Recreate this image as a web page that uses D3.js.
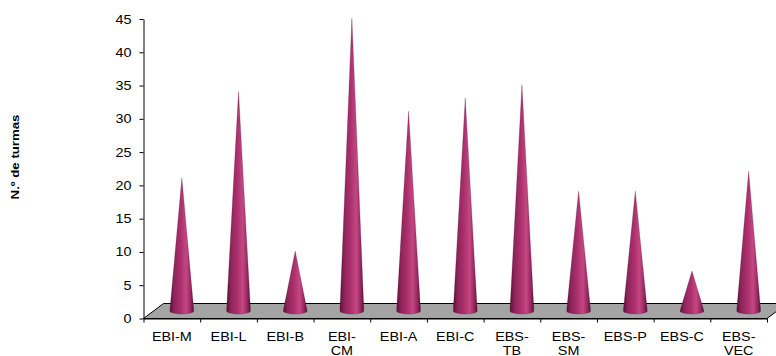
<!DOCTYPE html>
<html>
<head>
<meta charset="utf-8">
<script src="https://cdn.jsdelivr.net/npm/d3@7"></script>
<style>
  body { margin: 0; background: #fff; }
  svg { display: block; }
  text { font-family: "Liberation Sans", Arial, sans-serif; fill: #000; }
</style>
</head>
<body>
<svg width="776" height="356"></svg>
<script>
// categories and values
const categories = ["EBI-M", "EBI-L", "EBI-B", "EBI-CM", "EBI-A", "EBI-C", "EBS-TB", "EBS-SM", "EBS-P", "EBS-C", "EBS-VEC"];
const turmas = [20, 33, 9, 44, 30, 32, 34, 18, 18, 6, 21];
const yTicks = [0, 5, 10, 15, 20, 25, 30, 35, 40, 45];

const svg = d3.select("svg");
const plotLeft = 143.5, plotRight = 767, plotTop = 19, plotBottom = 318.5;
const depthX = 20, depthY = 15; // oblique offset of the floor
const stretch = 1.15;           // text in the picture is a bit wider than Arial

const x = d3.scaleBand().domain(categories).range([plotLeft, plotRight]);
const y = d3.scaleLinear().domain([0, 45]).range([plotBottom, plotTop]);

// gradient for the cones
const grad = svg.append("defs").append("linearGradient")
  .attr("id", "cone").attr("x1", "0").attr("x2", "1").attr("y1", "0").attr("y2", "0");
[[0, "#5a1036"], [0.18, "#8e2459"], [0.45, "#ab306d"], [0.68, "#c44781"], [0.86, "#9a2961"], [1, "#581035"]]
  .forEach(s => grad.append("stop").attr("offset", s[0]).attr("stop-color", s[1]));

// floor
svg.append("polygon")
  .attr("points", [[plotLeft, plotBottom], [plotLeft + depthX, plotBottom - depthY], [plotRight + depthX, plotBottom - depthY], [plotRight, plotBottom]].join(" "))
  .attr("fill", "#a4a4a4")
  .attr("stroke", "#000")
  .attr("stroke-width", 1);

// y axis
const yAxis = svg.append("g")
  .attr("transform", `translate(${plotLeft},0)`)
  .call(d3.axisLeft(y).tickValues(yTicks).tickSize(4).tickSizeOuter(0));
yAxis.select(".domain").attr("stroke", "#000");
yAxis.selectAll("text")
  .attr("x", null)
  .attr("transform", `translate(-12,0) scale(${stretch},1)`)
  .style("font-size", "12.5px")
  .style("font-family", "'Liberation Sans', Arial, sans-serif");

// x axis: tick marks on the band edges
const edge = d3.scaleLinear().domain([0, categories.length]).range([plotLeft, plotRight]);
const xTicks = svg.append("g")
  .attr("transform", `translate(0,${plotBottom})`)
  .call(d3.axisBottom(edge).tickValues(d3.range(categories.length + 1)).tickSize(4).tickFormat("").tickSizeOuter(0));
xTicks.select(".domain").attr("stroke", "#000");

// x axis labels from the band scale, wrapped after the hyphen when too wide
const xLabels = svg.append("g")
  .attr("transform", `translate(0,${plotBottom})`)
  .call(d3.axisBottom(x).tickSize(0).tickPadding(0));
xLabels.select(".domain").remove();
xLabels.selectAll("text")
  .attr("y", null).attr("dy", null)
  .style("font-size", "12.5px")
  .style("font-family", "'Liberation Sans', Arial, sans-serif")
  .each(function(d) {
    const t = d3.select(this);
    t.text(null).attr("transform", `translate(0,22) scale(${stretch},1)`);
    t.append("tspan").attr("x", 0).attr("dy", 0).text(d);
    if (this.getComputedTextLength() * stretch > 49) {
      const i = d.indexOf("-") + 1;
      t.text(null);
      t.append("tspan").attr("x", 0).attr("dy", 0).text(d.slice(0, i));
      t.append("tspan").attr("x", 0).attr("dy", "1.2em").text(d.slice(i));
    }
  });

// cones, standing in the middle of the floor depth
const r = 12, ry = 3;
svg.append("g").selectAll("path")
  .data(categories.map((c, i) => ({ c, v: turmas[i] })))
  .join("path")
  .attr("d", d => {
    const cx = x(d.c) + x.bandwidth() / 2 + depthX / 2;
    const base = y(0) - depthY / 2;
    const tip = y(d.v) - depthY / 2;
    return `M${cx - r},${base} L${cx},${tip} L${cx + r},${base} A${r},${ry} 0 0 1 ${cx - r},${base} Z`;
  })
  .attr("fill", "url(#cone)")
  .attr("stroke", "#4a0c2c")
  .attr("stroke-width", 0.4)
  .attr("stroke-opacity", 0.6);

// y axis title
svg.append("text")
  .attr("transform", `translate(19,157) rotate(-90) scale(${stretch},1)`)
  .attr("text-anchor", "middle")
  .style("font-size", "11.5px")
  .style("font-weight", "bold")
  .text("N.º de turmas");
</script>
</body>
</html>
